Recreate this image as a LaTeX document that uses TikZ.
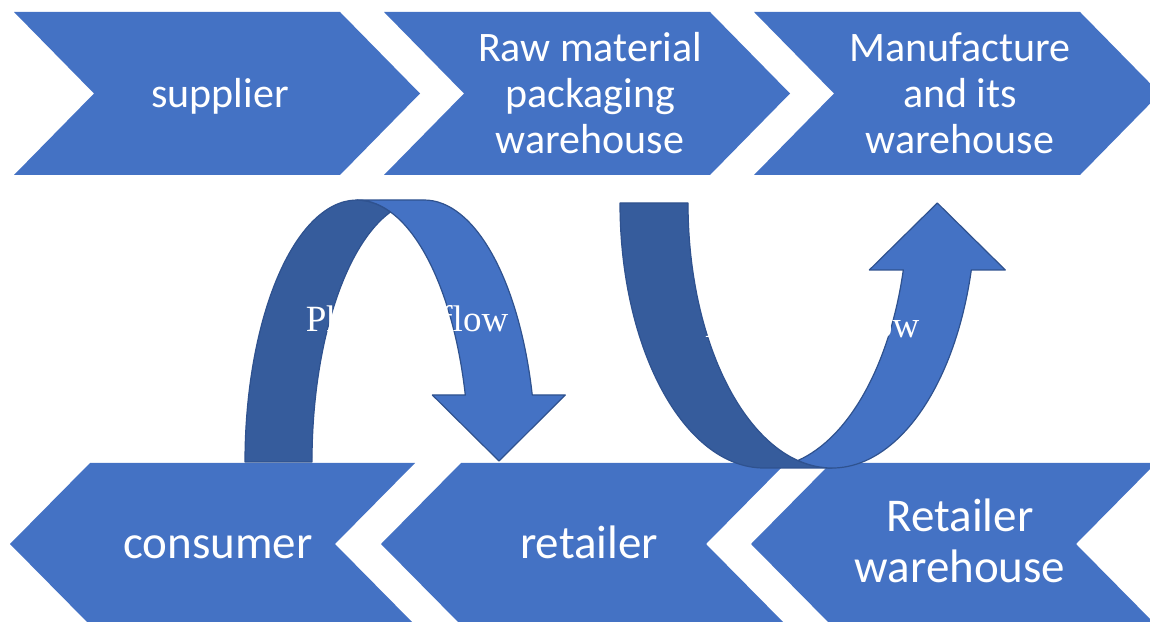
\documentclass[tikz,border=0pt]{standalone}
\usepackage{fontspec}
\setmainfont{Carlito}
\newfontfamily\serifface{Liberation Serif}
\usepackage{xcolor}
\usepackage{tikz}

\definecolor{boxblue}{HTML}{4472C4}
\definecolor{backblue}{HTML}{365C9C}
\definecolor{lineblue}{HTML}{2F528F}

\begin{document}
\begin{tikzpicture}[x=1pt,y=1pt,
    chev/.style={fill=boxblue},
    band/.style={draw=lineblue,line width=1.2pt,line join=round},
    boxtext/.style={text=white,align=center,font=\fontsize{42}{46}\selectfont},
    bigtext/.style={text=white,align=center,font=\fontsize{47}{51}\selectfont},
    flowtext/.style={text=white,font=\serifface\fontsize{37}{40}\selectfont}]
    \useasboundingbox (0,0) rectangle (1150,621);
    \clip (0,0) rectangle (1150,621);
    % top row, pointing right
    \foreach \x in {14,384,754}
        \fill[chev] (\x,609) -- ++(326,0) -- ++(80,-81.5) -- ++(-80,-81.5) -- ++(-326,0) -- ++(80,81.5) -- cycle;
    % bottom row, pointing left
    \foreach \x in {10,381,751}
        \fill[chev] (\x,77) -- ++(80,81) -- ++(325,0) -- ++(-80,-81) -- ++(80,-81) -- ++(-325,0) -- cycle;

    \node[boxtext,anchor=base] (supplier) at (220,513) {supplier};
    \node[boxtext] (rawmat) at (590,528) {Raw material\\packaging\\warehouse};
    \node[boxtext] (manuf) at (960,528) {Manufacture\\and its\\warehouse};
    \node[bigtext,anchor=base] (consumer) at (218,63) {consumer};
    \node[bigtext,anchor=base] (retailer) at (589,63) {retailer};
    \node[bigtext] (retwh) at (960,80) {Retailer\\warehouse};

    % curved arrow going down to the retailer
    \filldraw[band,fill=backblue] (245,159)
        arc[start angle=180,end angle=72.6,x radius=112,y radius=262]
        arc[start angle=107.4,end angle=180,x radius=112,y radius=262] -- cycle;
    \filldraw[band,fill=boxblue] (499,160) -- (432.3,226) -- (465.3,226)
        arc[start angle=14.82,end angle=90,x radius=112,y radius=262] -- (424,421)
        arc[start angle=90,end angle=14.82,x radius=112,y radius=262] -- (565.3,226) -- cycle;

    % curved arrow going up to the manufacturer
    \filldraw[band,fill=backblue] (620,418)
        arc[start angle=180,end angle=270,x radius=144,y radius=265] -- (832,153)
        arc[start angle=270,end angle=180,x radius=144,y radius=265] -- cycle;
    \filldraw[band,fill=boxblue] (937.3,418) -- (1005.3,351) -- (971.3,351)
        arc[start angle=-14.65,end angle=-103.66,x radius=144,y radius=265]
        arc[start angle=-76.34,end angle=-14.65,x radius=144,y radius=265] -- (869.3,351) -- cycle;

    \node[flowtext,anchor=base] (physflow) at (407,289) {Physical flow};
    \node[flowtext,anchor=base] (finflow) at (812,283) {Financial flow};
\end{tikzpicture}
\end{document}
